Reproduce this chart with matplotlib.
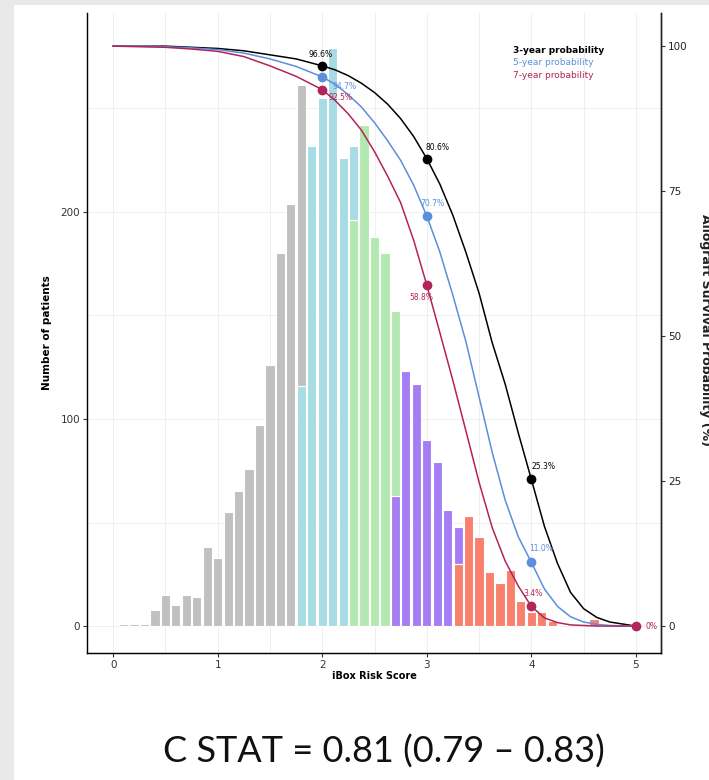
import matplotlib
matplotlib.use("Agg")
import matplotlib.pyplot as plt
from matplotlib.patches import Rectangle

# histogram of iBox risk score, one list per risk group (bin centre, count)
grey_bins = [0.1, 0.2, 0.3, 0.4, 0.5, 0.6, 0.7, 0.8, 0.9, 1.0, 1.1, 1.2,
             1.3, 1.4, 1.5, 1.6, 1.7, 1.8]
grey_counts = [1, 1, 1, 8, 15, 10, 15, 14, 38, 33, 55, 65,
               76, 97, 126, 180, 204, 145]
cyan_bins = [1.8, 1.9, 2.0, 2.1, 2.2, 2.3]
cyan_counts = [116, 232, 255, 279, 226, 36]
green_bins = [2.3, 2.4, 2.5, 2.6, 2.7]
green_counts = [196, 242, 188, 180, 89]
purple_bins = [2.7, 2.8, 2.9, 3.0, 3.1, 3.2, 3.3]
purple_counts = [63, 123, 117, 90, 79, 56, 18]
red_bins = [3.3, 3.4, 3.5, 3.6, 3.7, 3.8, 3.9, 4.0, 4.1, 4.2, 4.6]
red_counts = [30, 53, 43, 26, 21, 27, 12, 7, 7, 2.5, 3.4]

# survival probability curves (%)
curve_x = [0, 0.25, 0.5, 0.75, 1.0, 1.25, 1.5, 1.75,
           2.0, 2.125, 2.25, 2.375, 2.5, 2.625, 2.75, 2.875,
           3.0, 3.125, 3.25, 3.375, 3.5, 3.625, 3.75, 3.875,
           4.0, 4.125, 4.25, 4.375, 4.5, 4.625, 4.75, 5.0]
surv_3y = [100, 100, 100, 99.8, 99.6, 99.2, 98.5, 97.8,
           96.6, 95.9, 94.9, 93.6, 92.0, 90.0, 87.5, 84.4,
           80.6, 76.2, 70.8, 64.4, 57.4, 48.9, 41.7, 33.3,
           25.3, 17.2, 10.8, 5.8, 3.0, 1.5, 0.7, 0]
surv_5y = [100, 100, 99.9, 99.7, 99.4, 98.8, 97.8, 96.5,
           94.7, 93.4, 91.6, 89.5, 86.8, 83.7, 80.3, 76.0,
           70.7, 64.5, 57.0, 49.0, 39.5, 30.0, 21.7, 15.4,
           11.0, 6.4, 3.4, 1.6, 0.7, 0.3, 0.1, 0]
surv_7y = [100, 99.9, 99.8, 99.5, 99.1, 98.2, 96.6, 94.8,
           92.5, 90.6, 88.3, 85.5, 81.8, 77.6, 73.0, 66.5,
           58.8, 50.6, 42.3, 33.6, 24.8, 17.0, 11.2, 6.9,
           3.4, 1.4, 0.6, 0.2, 0.1, 0, 0, 0]

# marked points with their labels
mark_x = [2, 3, 4, 5]
mark_3y = [96.6, 80.6, 25.3, 0]
mark_5y = [94.7, 70.7, 11.0, 0]
mark_7y = [92.5, 58.8, 3.4, 0]

SCALE = 2.8  # patients per % on the secondary axis

c_grey, c_cyan, c_green = "#c0c0c0", "#a8dce4", "#b3e9b1"
c_purple, c_red = "#a67ef4", "#f8806d"
c_3y, c_5y, c_7y = "#000000", "#5b8fdc", "#b3245a"

fig = plt.figure(figsize=(7.09, 7.80), dpi=100, facecolor="#e9e9e9")
fig.patches.append(Rectangle((14 / 709, 0), 1, 1 - 5 / 780, transform=fig.transFigure,
                             facecolor="white", edgecolor="none", zorder=-5))

ax = fig.add_axes([87 / 709, 1 - 653 / 780, (661 - 87) / 709, (653 - 13) / 780])
ax.set_facecolor("white")
ax.set_xlim(-0.25, 5.24)
ax.set_ylim(-13, 296)

# stacked bars: later groups sit at the bottom
base = {}
groups = [(red_bins, red_counts, c_red), (purple_bins, purple_counts, c_purple),
          (green_bins, green_counts, c_green), (cyan_bins, cyan_counts, c_cyan),
          (grey_bins, grey_counts, c_grey)]
for bins, counts, col in groups:
    bottoms = [base.get(round(b, 1), 0) for b in bins]
    ax.bar(bins, counts, width=0.088, bottom=bottoms, color=col,
           edgecolor="white", linewidth=0.8, zorder=2)
    for b, c in zip(bins, counts):
        base[round(b, 1)] = base.get(round(b, 1), 0) + c

ax.set_xticks([0, 1, 2, 3, 4, 5])
ax.set_xticks([0.5, 1.5, 2.5, 3.5, 4.5], minor=True)
ax.set_yticks([0, 100, 200])
ax.set_yticks([50, 150, 250], minor=True)
ax.grid(True, which="both", color="#ececec", linewidth=0.6, zorder=0)
ax.set_axisbelow(True)
ax.tick_params(which="minor", length=0)
ax.tick_params(which="major", length=3, width=0.8, color="#333333",
               labelsize=7.5, labelcolor="#333333", pad=2)
for s in ["left", "bottom", "right"]:
    ax.spines[s].set_color("#222222")
    ax.spines[s].set_linewidth(1.0)
ax.spines["top"].set_visible(False)
ax.set_xlabel("iBox Risk Score", fontsize=7, fontweight="bold", labelpad=1)
ax.set_ylabel("Number of patients", fontsize=7.5, fontweight="bold", labelpad=6)

ax2 = ax.twinx()
ax2.set_ylim(-13 / SCALE, 296 / SCALE)
ax2.set_yticks([0, 25, 50, 75, 100])
ax2.tick_params(length=3, width=0.8, color="#333333", labelsize=7.5,
                labelcolor="#222222", pad=2)
ax2.spines["top"].set_visible(False)
ax2.spines["right"].set_color("#222222")
ax2.spines["right"].set_linewidth(1.0)

ax2.plot(curve_x, surv_3y, color=c_3y, lw=1.1, zorder=3)
ax2.plot(curve_x, surv_5y, color=c_5y, lw=1.1, zorder=3)
ax2.plot(curve_x, surv_7y, color=c_7y, lw=1.1, zorder=3)
ax2.plot(mark_x[:3], mark_3y[:3], "o", color=c_3y, ms=6, zorder=4)
ax2.plot(mark_x[:3], mark_5y[:3], "o", color=c_5y, ms=6, zorder=4)
ax2.plot(mark_x, mark_7y, "o", color=c_7y, ms=6, zorder=4)

offsets_3y = [(-1, 8), (8, 8), (9, 9)]
offsets_5y = [(16, -7), (4, 9), (7, 10)]
offsets_7y = [(13, -6), (-4, -9), (1.5, 9), (11, 0)]
for vals, offs, col in [(mark_3y, offsets_3y, c_3y), (mark_5y, offsets_5y, c_5y),
                        (mark_7y, offsets_7y, c_7y)]:
    for xv, yv, off in zip(mark_x, vals, offs):
        txt = "0%" if yv == 0 else f"{yv:.1f}%"
        ax2.annotate(txt, (xv, yv), xytext=off, textcoords="offset points",
                     ha="center", va="center", fontsize=5.5, color=col, zorder=5)

ax.text(0.742, 0.942, "3-year probability", transform=ax.transAxes,
        fontsize=6.5, fontweight="bold", color=c_3y, va="center")
ax.text(0.742, 0.922, "5-year probability", transform=ax.transAxes,
        fontsize=6.5, color=c_5y, va="center")
ax.text(0.742, 0.902, "7-year probability", transform=ax.transAxes,
        fontsize=6.5, color=c_7y, va="center")

fig.text(699 / 709, 1 - 330 / 780, "Allograft Survival Probability (%)",
         rotation=270, ha="left", va="center", fontsize=9, fontweight="bold",
         color="#222222")

fig.text(384 / 709, 1 - 752 / 780, "C STAT = 0.81 (0.79 \u2013 0.83)",
         ha="center", va="center", fontsize=26, family="Lato", color="#111111")

fig.savefig("out.png", dpi=100, facecolor=fig.get_facecolor())
